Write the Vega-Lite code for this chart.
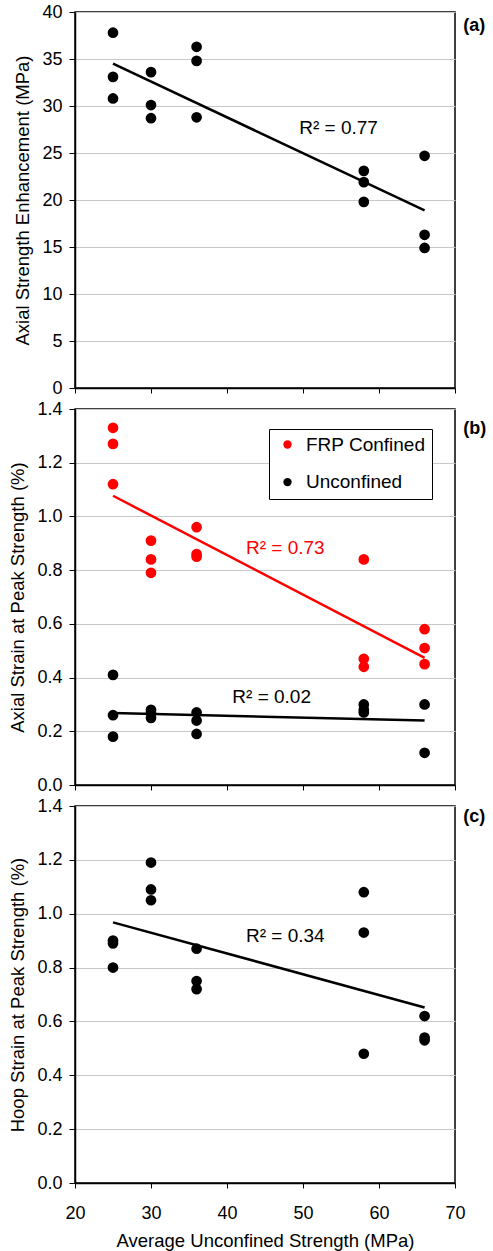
{
  "$schema": "https://vega.github.io/schema/vega-lite/v6.json",
  "padding": {"left": 8, "top": 2, "right": 3, "bottom": 3},
  "background": "white",
  "spacing": 21,
  "bounds": "flush",
  "config": {
    "font": "Liberation Sans",
    "view": {"stroke": "black", "strokeWidth": 1.5},
    "axis": {
      "labelFont": "Liberation Sans", "labelFontSize": 18, "labelColor": "black", "labelFlush": false,
      "titleFont": "Liberation Sans", "titleFontSize": 18.5, "titleFontWeight": "normal", "titleColor": "black",
      "domainColor": "black", "domainWidth": 1.5, "tickColor": "black", "tickWidth": 1,
      "gridColor": "#c8c8c8", "gridWidth": 1
    },
    "axisX": {"grid": false, "tickSize": 5, "labelPadding": 16, "titlePadding": 9},
    "axisY": {"grid": true, "tickSize": 6, "labelPadding": 7, "titlePadding": 9},
    "legend": {
      "labelFont": "Liberation Sans", "labelFontSize": 19, "labelColor": "black"
    }
  },
  "datasets": {
    "a": [
      {"fc": 25, "v": 37.8}, {"fc": 25, "v": 33.1}, {"fc": 25, "v": 30.8},
      {"fc": 30, "v": 33.6}, {"fc": 30, "v": 30.1}, {"fc": 30, "v": 28.7},
      {"fc": 36, "v": 36.3}, {"fc": 36, "v": 34.8}, {"fc": 36, "v": 28.8},
      {"fc": 58, "v": 23.1}, {"fc": 58, "v": 21.9}, {"fc": 58, "v": 19.8},
      {"fc": 66, "v": 24.7}, {"fc": 66, "v": 16.3}, {"fc": 66, "v": 14.9}
    ],
    "a_trend": [{"fc": 25, "v": 34.5}, {"fc": 66, "v": 18.9}],
    "b": [
      {"fc": 25, "v": 1.33, "series": "FRP Confined"}, {"fc": 25, "v": 1.27, "series": "FRP Confined"}, {"fc": 25, "v": 1.12, "series": "FRP Confined"},
      {"fc": 30, "v": 0.91, "series": "FRP Confined"}, {"fc": 30, "v": 0.84, "series": "FRP Confined"}, {"fc": 30, "v": 0.79, "series": "FRP Confined"},
      {"fc": 36, "v": 0.96, "series": "FRP Confined"}, {"fc": 36, "v": 0.86, "series": "FRP Confined"}, {"fc": 36, "v": 0.85, "series": "FRP Confined"},
      {"fc": 58, "v": 0.84, "series": "FRP Confined"}, {"fc": 58, "v": 0.47, "series": "FRP Confined"}, {"fc": 58, "v": 0.44, "series": "FRP Confined"},
      {"fc": 66, "v": 0.58, "series": "FRP Confined"}, {"fc": 66, "v": 0.51, "series": "FRP Confined"}, {"fc": 66, "v": 0.45, "series": "FRP Confined"},
      {"fc": 25, "v": 0.41, "series": "Unconfined"}, {"fc": 25, "v": 0.26, "series": "Unconfined"}, {"fc": 25, "v": 0.18, "series": "Unconfined"},
      {"fc": 30, "v": 0.28, "series": "Unconfined"}, {"fc": 30, "v": 0.27, "series": "Unconfined"}, {"fc": 30, "v": 0.25, "series": "Unconfined"},
      {"fc": 36, "v": 0.27, "series": "Unconfined"}, {"fc": 36, "v": 0.24, "series": "Unconfined"}, {"fc": 36, "v": 0.19, "series": "Unconfined"},
      {"fc": 58, "v": 0.30, "series": "Unconfined"}, {"fc": 58, "v": 0.28, "series": "Unconfined"}, {"fc": 58, "v": 0.27, "series": "Unconfined"},
      {"fc": 66, "v": 0.30, "series": "Unconfined"}, {"fc": 66, "v": 0.12, "series": "Unconfined"}
    ],
    "b_trend": [
      {"fc": 25, "v": 1.077, "series": "FRP Confined"}, {"fc": 66, "v": 0.473, "series": "FRP Confined"},
      {"fc": 25, "v": 0.268, "series": "Unconfined"}, {"fc": 66, "v": 0.24, "series": "Unconfined"}
    ],
    "c": [
      {"fc": 25, "v": 0.90}, {"fc": 25, "v": 0.89}, {"fc": 25, "v": 0.80},
      {"fc": 30, "v": 1.19}, {"fc": 30, "v": 1.09}, {"fc": 30, "v": 1.05},
      {"fc": 36, "v": 0.87}, {"fc": 36, "v": 0.75}, {"fc": 36, "v": 0.72},
      {"fc": 58, "v": 1.08}, {"fc": 58, "v": 0.93}, {"fc": 58, "v": 0.48},
      {"fc": 66, "v": 0.62}, {"fc": 66, "v": 0.54}, {"fc": 66, "v": 0.53}
    ],
    "c_trend": [{"fc": 25, "v": 0.968}, {"fc": 66, "v": 0.652}]
  },
  "vconcat": [
    {
      "width": 380, "height": 376,
      "layer": [
        {
          "data": {"name": "a_trend"},
          "mark": {"type": "line", "color": "black", "strokeWidth": 2.5},
          "encoding": {
            "x": {"field": "fc", "type": "quantitative", "scale": {"domain": [20, 70], "nice": false},
                  "axis": {"values": [20, 30, 40, 50, 60, 70], "labels": false, "title": null}},
            "y": {"field": "v", "type": "quantitative", "scale": {"domain": [0, 40], "nice": false},
                  "axis": {"values": [0, 5, 10, 15, 20, 25, 30, 35, 40], "title": "Axial Strength Enhancement (MPa)"}}
          }
        },
        {
          "data": {"name": "a"},
          "mark": {"type": "circle", "size": 115, "opacity": 1, "color": "black"},
          "encoding": {
            "x": {"field": "fc", "type": "quantitative"},
            "y": {"field": "v", "type": "quantitative"}
          }
        },
        {
          "data": {"values": [{}]},
          "mark": {"type": "text", "text": "R² = 0.77", "align": "left", "baseline": "alphabetic", "fontSize": 19, "font": "Liberation Sans", "color": "black"},
          "encoding": {"x": {"datum": 49.5}, "y": {"datum": 27.0}}
        },
        {
          "data": {"values": [{}]},
          "mark": {"type": "text", "text": "(a)", "align": "left", "baseline": "middle", "fontSize": 18, "fontWeight": "bold", "font": "Liberation Sans", "color": "black"},
          "encoding": {"x": {"datum": 71.1}, "y": {"datum": 38.46}}
        }
      ]
    },
    {
      "width": 380, "height": 376,
      "layer": [
        {
          "data": {"name": "b_trend"},
          "transform": [{"filter": "datum.series === 'FRP Confined'"}],
          "mark": {"type": "line", "color": "#ff0000", "strokeWidth": 2.5},
          "encoding": {
            "x": {"field": "fc", "type": "quantitative", "scale": {"domain": [20, 70], "nice": false},
                  "axis": {"values": [20, 30, 40, 50, 60, 70], "labels": false, "title": null}},
            "y": {"field": "v", "type": "quantitative", "scale": {"domain": [0, 1.4], "nice": false},
                  "axis": {"values": [0, 0.2, 0.4, 0.6, 0.8, 1.0, 1.2, 1.4], "format": ".1f", "title": "Axial Strain at Peak Strength (%)"}}
          }
        },
        {
          "data": {"name": "b_trend"},
          "transform": [{"filter": "datum.series === 'Unconfined'"}],
          "mark": {"type": "line", "color": "black", "strokeWidth": 2.5},
          "encoding": {
            "x": {"field": "fc", "type": "quantitative"},
            "y": {"field": "v", "type": "quantitative"}
          }
        },
        {
          "data": {"name": "b"},
          "mark": {"type": "circle", "size": 115, "opacity": 1},
          "encoding": {
            "x": {"field": "fc", "type": "quantitative"},
            "y": {"field": "v", "type": "quantitative"},
            "color": {
              "field": "series", "type": "nominal",
              "scale": {"domain": ["FRP Confined", "Unconfined"], "range": ["#ff0000", "#000000"]},
              "legend": {
                "title": null, "orient": "none", "legendX": 194, "legendY": 417,
                "strokeColor": "black", "fillColor": "white", "padding": 6,
                "rowPadding": 17.6, "symbolType": "circle", "symbolSize": 70,
                "symbolStrokeWidth": 0, "symbolOffset": 3, "labelOffset": 9
              }
            }
          }
        },
        {
          "data": {"values": [{}]},
          "mark": {"type": "text", "text": "R² = 0.73", "align": "left", "baseline": "alphabetic", "fontSize": 19, "font": "Liberation Sans", "color": "#ff0000"},
          "encoding": {"x": {"datum": 42.5}, "y": {"datum": 0.861}}
        },
        {
          "data": {"values": [{}]},
          "mark": {"type": "text", "text": "R² = 0.02", "align": "left", "baseline": "alphabetic", "fontSize": 19, "font": "Liberation Sans", "color": "black"},
          "encoding": {"x": {"datum": 40.7}, "y": {"datum": 0.305}}
        },
        {
          "data": {"values": [{}]},
          "mark": {"type": "text", "text": "(b)", "align": "left", "baseline": "middle", "fontSize": 18, "fontWeight": "bold", "font": "Liberation Sans", "color": "black"},
          "encoding": {"x": {"datum": 71.1}, "y": {"datum": 1.327}}
        }
      ]
    },
    {
      "width": 380, "height": 377,
      "layer": [
        {
          "data": {"name": "c_trend"},
          "mark": {"type": "line", "color": "black", "strokeWidth": 2.5},
          "encoding": {
            "x": {"field": "fc", "type": "quantitative", "scale": {"domain": [20, 70], "nice": false},
                  "axis": {"values": [20, 30, 40, 50, 60, 70], "title": "Average Unconfined Strength (MPa)"}},
            "y": {"field": "v", "type": "quantitative", "scale": {"domain": [0, 1.4], "nice": false},
                  "axis": {"values": [0, 0.2, 0.4, 0.6, 0.8, 1.0, 1.2, 1.4], "format": ".1f", "title": "Hoop Strain at Peak Strength (%)"}}
          }
        },
        {
          "data": {"name": "c"},
          "mark": {"type": "circle", "size": 115, "opacity": 1, "color": "black"},
          "encoding": {
            "x": {"field": "fc", "type": "quantitative"},
            "y": {"field": "v", "type": "quantitative"}
          }
        },
        {
          "data": {"values": [{}]},
          "mark": {"type": "text", "text": "R² = 0.34", "align": "left", "baseline": "alphabetic", "fontSize": 19, "font": "Liberation Sans", "color": "black"},
          "encoding": {"x": {"datum": 42.5}, "y": {"datum": 0.896}}
        },
        {
          "data": {"values": [{}]},
          "mark": {"type": "text", "text": "(c)", "align": "left", "baseline": "middle", "fontSize": 18, "fontWeight": "bold", "font": "Liberation Sans", "color": "black"},
          "encoding": {"x": {"datum": 71.1}, "y": {"datum": 1.361}}
        }
      ]
    }
  ]
}
